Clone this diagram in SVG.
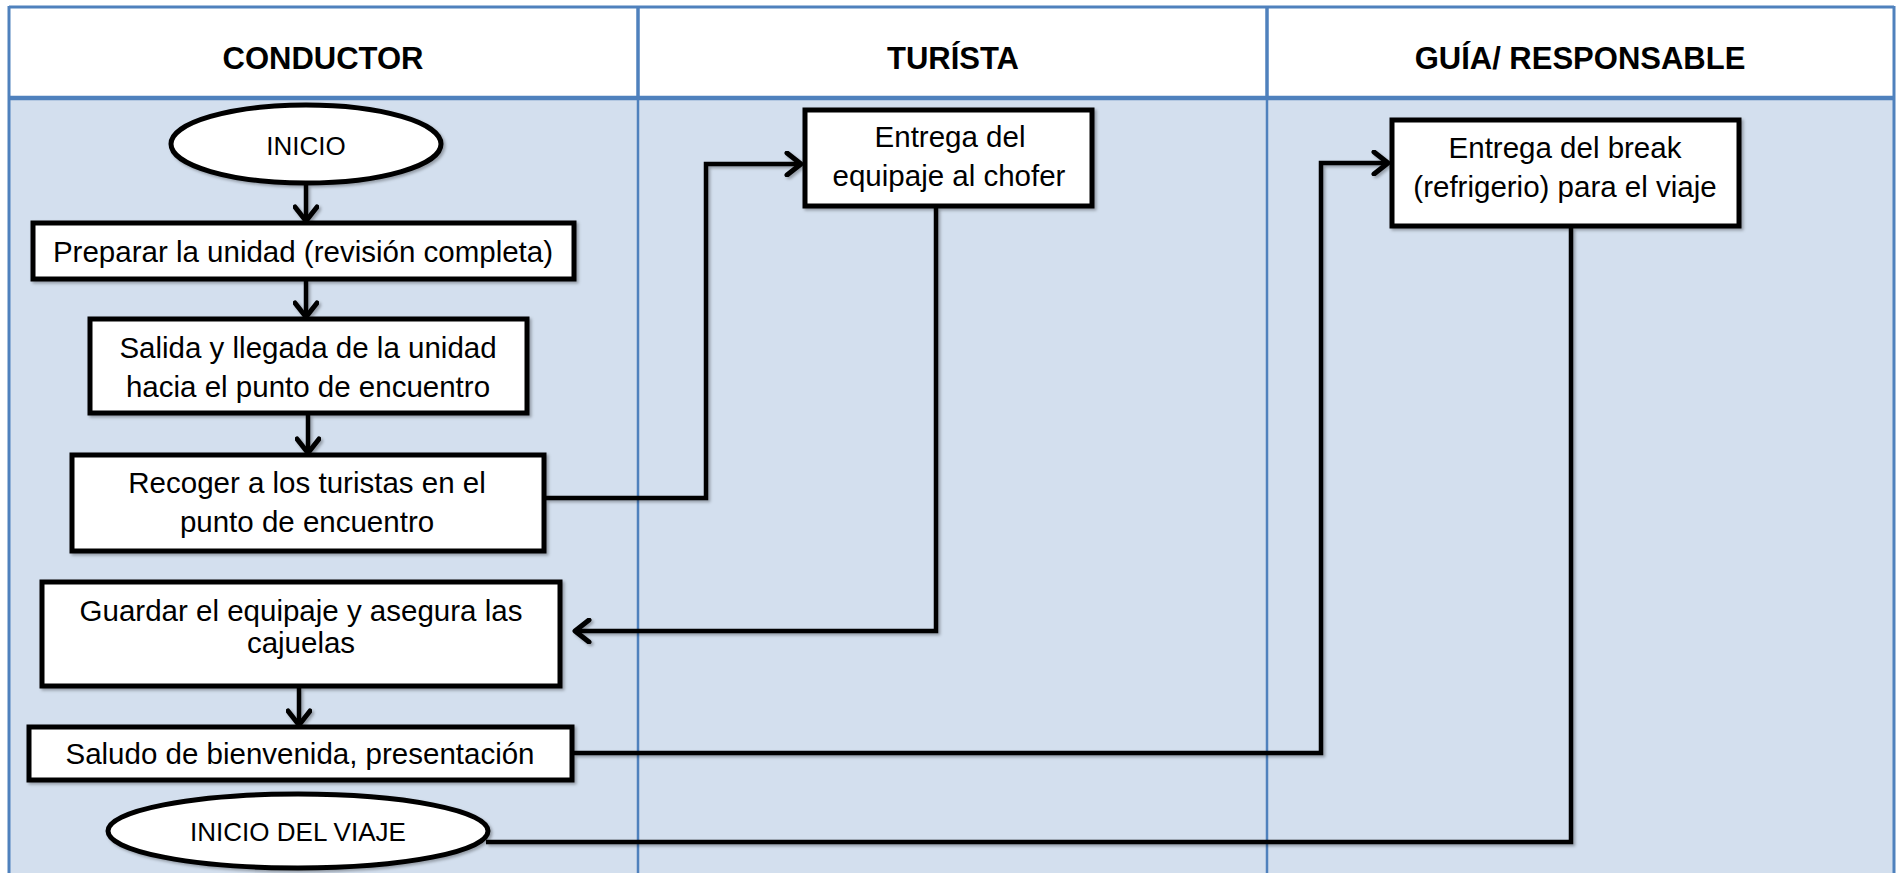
<svg xmlns="http://www.w3.org/2000/svg" width="1896" height="873" viewBox="0 0 1896 873">
  <defs>
    <style>
      .lane { fill: #D3DFEE; }
      .head { fill: #FFFFFF; }
      .bl { stroke: #4F81BD; fill: none; }
      .box { fill: #FFFFFF; stroke: #000000; stroke-width: 5; filter: url(#sh); }
      .t { font-family: "Liberation Sans", Arial, sans-serif; font-size: 29.5px; fill: #000000; text-anchor: middle; }
      .ts { font-family: "Liberation Sans", Arial, sans-serif; font-size: 26px; fill: #000000; text-anchor: middle; }
      .h { font-family: "Liberation Sans", Arial, sans-serif; font-size: 31px; font-weight: bold; fill: #000000; text-anchor: middle; }
      .c { fill: none; stroke: #000000; stroke-width: 4.5; stroke-linejoin: miter; filter: url(#sh); }
      .ca { marker-end: url(#arr); }
    </style>
    <filter id="sh" filterUnits="userSpaceOnUse" x="0" y="0" width="1896" height="873">
      <feDropShadow dx="2" dy="2" stdDeviation="1.5" flood-color="#000000" flood-opacity="0.3"/>
    </filter>
    <marker id="arr" viewBox="0 0 20 26" refX="17" refY="13" markerWidth="20" markerHeight="26" markerUnits="userSpaceOnUse" orient="auto">
      <path d="M3,2 L17,13 L3,24" fill="none" stroke="#000000" stroke-width="5" stroke-linecap="round" stroke-linejoin="round"/>
    </marker>
  </defs>

  <g id="lanes">
    <rect class="head" x="9" y="7" width="1885" height="91"/>
    <rect class="lane" x="9" y="98" width="1885" height="775"/>
    <line class="bl" x1="9" y1="7" x2="1894" y2="7" stroke-width="3"/>
    <line class="bl" x1="9" y1="98" x2="1894" y2="98" stroke-width="4.5"/>
    <line class="bl" x1="9" y1="6" x2="9" y2="873" stroke-width="3"/>
    <line class="bl" x1="1894" y1="6" x2="1894" y2="873" stroke-width="3"/>
    <line class="bl" x1="638" y1="6" x2="638" y2="98" stroke-width="3.5"/>
    <line class="bl" x1="1267" y1="6" x2="1267" y2="98" stroke-width="3.5"/>
    <line class="bl" x1="638" y1="98" x2="638" y2="873" stroke-width="2.5"/>
    <line class="bl" x1="1267" y1="98" x2="1267" y2="873" stroke-width="2.5"/>
    <text class="h" x="323" y="69">CONDUCTOR</text>
    <text class="h" x="953" y="69">TURÍSTA</text>
    <text class="h" x="1580" y="69">GUÍA/ RESPONSABLE</text>
  </g>

  <g id="connectors">
    <path class="c ca" d="M306,185 V221"/>
    <path class="c ca" d="M306,281 V317"/>
    <path class="c ca" d="M308,415 V453"/>
    <path class="c ca" d="M299,688 V725"/>
    <path class="c ca" d="M546,498 H706 V164 H801"/>
    <path class="c ca" d="M936,208 V631 H575"/>
    <path class="c ca" d="M574,753 H1321 V163 H1388"/>
    <path class="c" d="M1571,228 V842 H486"/>
  </g>

  <g id="inicio">
    <ellipse class="box" cx="306" cy="144" rx="135" ry="39"/>
    <text class="ts" x="306" y="155">INICIO</text>
  </g>
  <g id="preparar">
    <rect class="box" x="33" y="223" width="541" height="56"/>
    <text class="t" x="303" y="262">Preparar la unidad (revisión completa)</text>
  </g>
  <g id="salida">
    <rect class="box" x="90" y="319" width="437" height="94"/>
    <text class="t" x="308" y="358">Salida y llegada de la unidad</text>
    <text class="t" x="308" y="397">hacia el punto de encuentro</text>
  </g>
  <g id="recoger">
    <rect class="box" x="72" y="455" width="472" height="96"/>
    <text class="t" x="307" y="493">Recoger a los turistas en el</text>
    <text class="t" x="307" y="532">punto de encuentro</text>
  </g>
  <g id="guardar">
    <rect class="box" x="42" y="582" width="518" height="104"/>
    <text class="t" x="301" y="621">Guardar el equipaje y asegura las</text>
    <text class="t" x="301" y="653">cajuelas</text>
  </g>
  <g id="saludo">
    <rect class="box" x="29" y="727" width="543" height="53"/>
    <text class="t" x="300" y="764">Saludo de bienvenida, presentación</text>
  </g>
  <g id="inicio-viaje">
    <ellipse class="box" cx="298" cy="831" rx="190" ry="37"/>
    <text class="ts" x="298" y="841">INICIO DEL VIAJE</text>
  </g>
  <g id="entrega-equipaje">
    <rect class="box" x="805" y="110" width="287" height="96"/>
    <text class="t" x="950" y="147">Entrega del</text>
    <text class="t" x="949" y="186">equipaje al chofer</text>
  </g>
  <g id="entrega-break">
    <rect class="box" x="1392" y="120" width="347" height="106"/>
    <text class="t" x="1565" y="158">Entrega del break</text>
    <text class="t" x="1565" y="197">(refrigerio) para el viaje</text>
  </g>
</svg>
